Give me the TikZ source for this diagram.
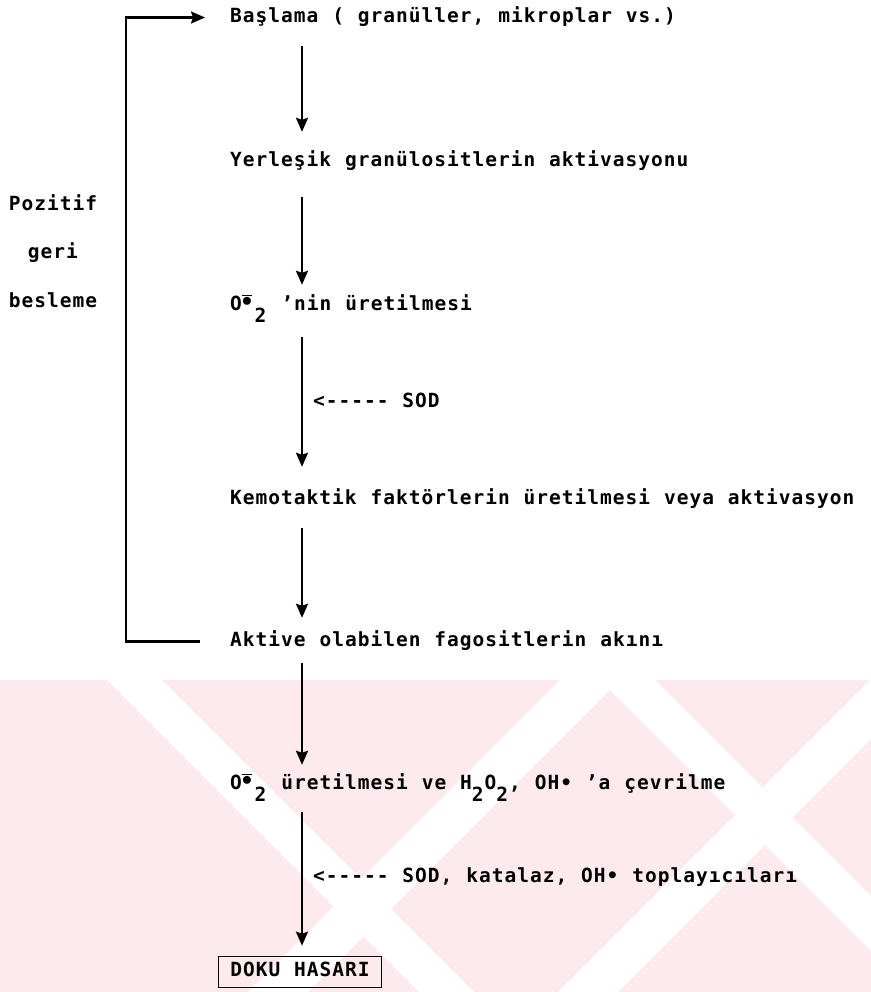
\documentclass[tikz,border=0pt]{standalone}
\usepackage{fontspec}
\usetikzlibrary{arrows.meta}
\newfontfamily\tw{DejaVu Sans Mono}[BoldFont={DejaVu Sans Mono Bold},LetterSpace=5.2,WordSpace={1.087,0,0}]
\definecolor{wmpink}{RGB}{252,234,238}
\newcommand\low[1]{\raisebox{-12bp}{\makebox[12.8bp][l]{#1}}}
\newcommand\supox{O\raisebox{4bp}{\makebox[12.8bp][l]{$\overline{\bullet}$}}\low{2}}
\tikzset{
  flow/.style={line width=2.2bp,-{Stealth[length=14bp,width=12bp,inset=2bp]}},
  stage/.style={anchor=base west,inner sep=0pt,text height=12bp,text depth=3bp},
  note/.style={anchor=west,inner sep=0pt,text height=12bp,text depth=3bp},
  side/.style={inner sep=0pt,text height=12bp,text depth=3bp}
}

\begin{document}
\begin{tikzpicture}[x=1bp,y=-1bp,font=\tw\bfseries\fontsize{19.5bp}{23bp}\selectfont]
\useasboundingbox (0,0) rectangle (871,992);
\fill[wmpink] (0,680) rectangle (871,992);
\fill[white] (107,680) -- (162,680) -- (474,992) -- (419,992) -- cycle;
\fill[white] (560,680) -- (620,680) -- (308,992) -- (248,992) -- cycle;
\fill[white] (870,680) -- (930,680) -- (618,992) -- (558,992) -- cycle;
\fill[white] (600,680) -- (655,680) -- (967,992) -- (912,992) -- cycle;

\coordinate (col) at (302,0);
\coordinate (back) at (126,0);
\node[stage] (start) at (230,22) {Başlama ( granüller, mikroplar vs.)};
\node[stage] (yerlesik) at (230,166) {Yerleşik granülositlerin aktivasyonu};
\node[stage] (onin) at (230,310) {\supox{} ’nin üretilmesi};
\node[stage] (kemo) at (230,504) {Kemotaktik faktörlerin üretilmesi veya aktivasyon};
\node[stage] (aktive) at (230,646) {Aktive olabilen fagositlerin akını};
\node[stage] (donusum) at (230,789) {\supox{} üretilmesi ve H\low{2}O\low{2}, OH• ’a çevrilme};
\node[draw,line width=1.6bp,inner xsep=12bp,inner ysep=8bp,text height=12bp,text depth=3bp] (hasar) at (300,972) {DOKU HASARI};
\node[side] (poz) at (53,206) {Pozitif};
\node[side] (geri) at (53,254) {geri};
\node[side] (besleme) at (53,303) {besleme};

\draw[flow,shorten <=21bp,shorten >=22bp] (start.south -| col) -- (yerlesik.north -| col);
\draw[flow,shorten <=28bp,shorten >=13bp] (yerlesik.south -| col) -- (onin.north -| col);
\draw[flow,shorten <=24bp,shorten >=25bp] (onin.south -| col) -- (kemo.north -| col)
  node[note,pos=.5,xshift=10bp] (sod) {<----- SOD};
\draw[flow,shorten <=21bp,shorten >=16bp] (kemo.south -| col) -- (aktive.north -| col);
\draw[flow,shorten <=14bp,shorten >=12bp] (aktive.south -| col) -- (donusum.north -| col);
\draw[flow,shorten <=20bp,shorten >=10bp] (donusum.south -| col) -- (hasar.north -| col)
  node[note,pos=.5,xshift=10bp,yshift=-4bp] (sod2) {<----- SOD, katalaz, OH• toplayıcıları};
\draw[flow] ([xshift=-30bp]aktive.west) -- (aktive.west -| back) -- (start.west -| back) -- ([xshift=-25bp]start.west);
\end{tikzpicture}
\end{document}
